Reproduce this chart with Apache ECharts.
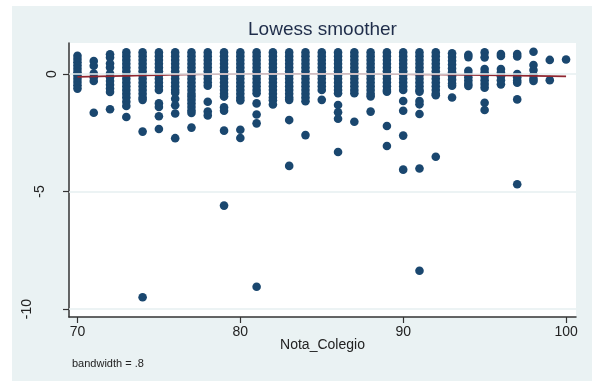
<!DOCTYPE html>
<html>
<head>
<meta charset="utf-8">
<script src="https://cdn.jsdelivr.net/npm/echarts@6/dist/echarts.min.js"></script>
<style>
html,body{margin:0;padding:0;background:#fff;}
#wrap{position:relative;width:592px;height:381px;background:#fff;overflow:hidden;}
#bg{position:absolute;left:12px;top:6px;width:580px;height:375px;background:#EAF2F3;}
#main{position:absolute;left:0;top:0;width:592px;height:381px;}
</style>
</head>
<body>
<div id="wrap"><div id="bg"></div><div id="main"></div></div>
<script>
// Nota_Colegio values (x) and the residual values observed at each one
const notaColegio = [70,71,72,73,74,75,76,77,78,79,80,81,82,83,84,85,86,87,88,89,90,91,92,93,94,95,96,97,98,99,100];
const residuos = [
  [0.78,0.64,0.5,0.36,0.22,0.08,-0.06,-0.2,-0.34,-0.48,-0.62],
  [0.55,0.35,0.02,-0.14,-0.3,-1.65],
  [0.84,0.7,0.45,0.28,0.02,-0.14,-0.3,-0.46,-0.62,-0.76,-1.5],
  [0.92,0.76,0.6,0.44,0.28,0.12,-0.04,-0.2,-0.36,-0.52,-0.68,-0.84,-1.0,-1.18,-1.36,-1.83],
  [0.92,0.76,0.6,0.44,0.28,0.12,-0.04,-0.2,-0.36,-0.52,-0.68,-0.84,-1.0,-1.1,-2.45,-9.5],
  [0.92,0.76,0.6,0.44,0.28,0.12,-0.04,-0.2,-0.36,-0.52,-0.68,-1.25,-1.4,-1.8,-2.34],
  [0.92,0.76,0.6,0.44,0.28,0.12,-0.04,-0.2,-0.36,-0.52,-0.68,-0.8,-1.05,-1.33,-1.68,-2.73],
  [0.92,0.76,0.6,0.44,0.28,0.12,-0.04,-0.2,-0.36,-0.52,-0.68,-0.84,-0.96,-1.1,-1.25,-1.4,-1.55,-1.66,-2.28],
  [0.92,0.76,0.6,0.44,0.28,0.12,-0.04,-0.2,-0.36,-0.5,-1.18,-1.6,-1.76],
  [0.92,0.76,0.6,0.44,0.28,0.12,-0.04,-0.2,-0.36,-0.52,-0.68,-0.84,-0.96,-1.42,-1.56,-2.41,-5.6],
  [0.92,0.76,0.6,0.44,0.28,0.12,-0.04,-0.2,-0.36,-0.52,-0.68,-0.84,-1.0,-1.12,-2.37,-2.72],
  [0.92,0.76,0.6,0.44,0.28,0.12,-0.04,-0.2,-0.36,-0.52,-0.68,-0.82,-1.25,-1.72,-2.1,-9.05],
  [0.92,0.76,0.6,0.44,0.28,0.12,-0.04,-0.2,-0.36,-0.52,-0.68,-0.84,-1.0,-1.12,-1.3],
  [0.92,0.76,0.6,0.44,0.28,0.12,-0.04,-0.2,-0.36,-0.52,-0.68,-0.84,-1.0,-1.1,-1.96,-3.91],
  [0.92,0.76,0.6,0.44,0.28,0.12,-0.04,-0.2,-0.36,-0.52,-0.68,-0.84,-1.0,-1.16,-2.6],
  [0.92,0.76,0.6,0.44,0.28,0.12,-0.04,-0.2,-0.36,-0.52,-0.68,-1.1],
  [0.92,0.76,0.6,0.44,0.28,0.12,-0.04,-0.2,-0.36,-0.52,-0.68,-0.82,-1.32,-1.63,-1.9,-3.32],
  [0.92,0.76,0.6,0.44,0.28,0.12,-0.04,-0.2,-0.36,-0.52,-0.68,-0.82,-2.03],
  [0.92,0.76,0.6,0.44,0.28,0.12,-0.04,-0.2,-0.36,-0.52,-0.68,-0.84,-0.95,-1.6],
  [0.92,0.76,0.6,0.44,0.28,0.12,-0.04,-0.2,-0.36,-0.52,-0.68,-0.75,-2.21,-3.06],
  [0.92,0.76,0.6,0.44,0.28,0.12,-0.04,-0.2,-0.36,-0.52,-0.68,-1.15,-1.56,-2.62,-4.07],
  [0.92,0.76,0.6,0.44,0.28,0.12,-0.04,-0.2,-0.36,-0.52,-0.68,-0.75,-1.15,-1.29,-1.7,-4.02,-8.37],
  [0.92,0.76,0.6,0.44,0.28,0.12,-0.04,-0.2,-0.36,-0.52,-0.68,-0.84,-0.9,-3.52],
  [0.88,0.72,0.56,0.4,0.24,0.08,-0.08,-0.24,-0.4,-0.5,-1.0],
  [0.82,0.72,0.14,0.0,-0.14,-0.28,-0.42,-0.51],
  [0.92,0.71,0.21,0.06,-0.1,-0.26,-0.42,-0.58,-1.22,-1.53],
  [0.85,0.77,0.21,0.06,-0.1,-0.26,-0.44],
  [0.85,0.75,0.0,-0.14,-0.28,-0.37,-1.08,-4.69],
  [0.95,0.38,0.17,-0.04,-0.2,-0.3],
  [0.6,-0.26],
  [0.62]
];
// lowess smoother (bandwidth = .8)
const lowessX = [70,72,74,76,78,80,82,84,86,88,90,92,94,96,98,100];
const lowessY = [-0.12,-0.09,-0.06,-0.03,-0.01,0.0,0.01,0.01,0.01,0.0,-0.01,-0.02,-0.04,-0.06,-0.08,-0.1];
// tick labels
const xTicks = [70,80,90,100];
const yTicks = [-10,-5,0];
const yTickLabels = ['-10','-5','0'];

const points = [];
notaColegio.forEach((x, i) => residuos[i].forEach(y => points.push([x, y])));
const lowess = lowessX.map((x, i) => [x, lowessY[i]]);

const chart = echarts.init(document.getElementById('main'), null, {renderer: 'canvas'});
const textColor = '#1f2d4a';
chart.setOption({
  backgroundColor: 'transparent',
  animation: false,
  grid: {left: 69, top: 43, width: 507, height: 274, show: true, backgroundColor: '#ffffff', borderWidth: 0},
  xAxis: {
    type: 'value', min: 69.48, max: 100.61,
    axisLine: {show: true, onZero: false, lineStyle: {color: '#333', width: 1.5}},
    axisTick: {show: true, customValues: xTicks, length: 6, lineStyle: {color: '#333', width: 1.2}},
    axisLabel: {show: true, customValues: xTicks, color: '#222', fontFamily: 'Liberation Sans, Arial', fontSize: 14, margin: 8},
    splitLine: {show: false}
  },
  yAxis: {
    type: 'value', min: -10.34, max: 1.32,
    axisLine: {show: true, onZero: false, lineStyle: {color: '#333', width: 1.5}},
    axisTick: {show: true, customValues: yTicks, length: 6, lineStyle: {color: '#333', width: 1.2}},
    axisLabel: {show: false},
    splitLine: {show: false}
  },
  series: [
    {
      type: 'scatter', data: [], z: 1, silent: true,
      markLine: {
        silent: true, symbol: ['none','none'], label: {show: false},
        lineStyle: {color: '#E6EFF1', width: 1.5, type: 'solid'},
        data: yTicks.map(v => ({yAxis: v}))
      }
    },
    {
      type: 'scatter', data: points, z: 2, symbolSize: 8.6,
      itemStyle: {color: '#1A476F', opacity: 1}
    },
    {
      type: 'line', data: lowess, z: 3, smooth: true, symbol: 'none',
      lineStyle: {color: '#8f2630', width: 1.7}
    }
  ]
});

const yLabelX = [27.5, 40, 51.7];
const g = [
  {type: 'text', x: 322.5, y: 30, style: {text: 'Lowess smoother', fill: textColor, font: '19px "Liberation Sans", Arial', align: 'center', verticalAlign: 'middle'}},
  {type: 'text', x: 322.5, y: 345, style: {text: 'Nota_Colegio', fill: '#222', font: '14px "Liberation Sans", Arial', align: 'center', verticalAlign: 'middle'}},
  {type: 'text', x: 72, y: 363.5, style: {text: 'bandwidth = .8', fill: '#222', font: '11px "Liberation Sans", Arial', align: 'left', verticalAlign: 'middle'}}
];
yTicks.forEach((v, i) => {
  const py = chart.convertToPixel({yAxisIndex: 0}, v);
  g.push({type: 'text', x: yLabelX[i], y: py, rotation: Math.PI / 2,
    style: {text: yTickLabels[i], fill: '#222', font: '14px "Liberation Sans", Arial', align: 'center', verticalAlign: 'middle'}});
});
chart.setOption({graphic: g});
</script>
</body>
</html>
